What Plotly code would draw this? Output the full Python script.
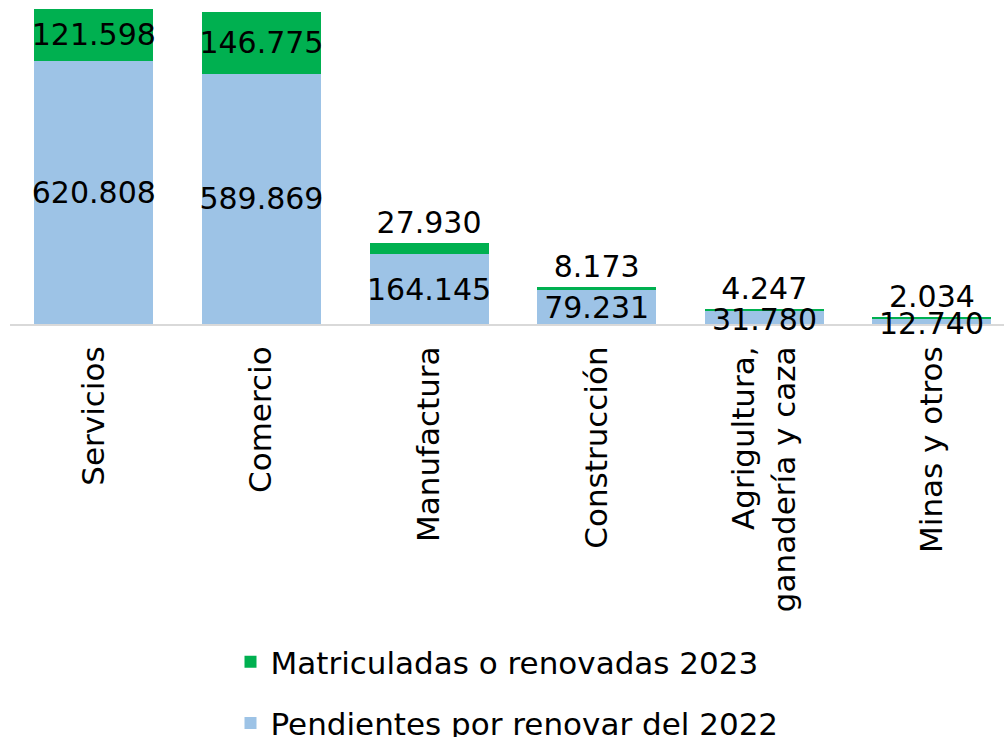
import plotly.graph_objects as go

categories = ["Servicios", "Comercio", "Manufactura", "Construcción",
              "Agrigultura,<br>ganadería y caza", "Minas y otros"]
pendientes_2022 = [620808, 589869, 164145, 79231, 31780, 12740]
matriculadas_2023 = [121598, 146775, 27930, 8173, 4247, 2034]

def fmt(v):
    return f"{v:,}".replace(",", ".")

FONT = "DejaVu Sans"
green_pos = ["inside", "inside", "outside", "outside", "outside", "outside"]
# small blue segments: label drawn as annotation centred on the segment
blue_pos = ["inside", "inside", "inside", "inside", "none", "none"]

fig = go.Figure()
fig.add_trace(go.Bar(
    x=categories, y=pendientes_2022, name="Pendientes por renovar del 2022",
    marker=dict(color="#9dc3e6", line=dict(width=0)),
    text=[fmt(v) for v in pendientes_2022], textposition=blue_pos,
    insidetextanchor="middle", textangle=0, constraintext="none", cliponaxis=False,
    textfont=dict(family=FONT, size=30, color="#000000"),
    legendgroup="b", legendrank=2, width=0.71, hoverinfo="skip",
))
fig.add_trace(go.Bar(
    x=categories, y=matriculadas_2023, name="Matriculadas o renovadas 2023",
    marker=dict(color="#00b050", line=dict(width=0)),
    text=[fmt(v) for v in matriculadas_2023], textposition=green_pos,
    insidetextanchor="middle", textangle=0, constraintext="none", cliponaxis=False,
    textfont=dict(family=FONT, size=30, color="#000000"),
    legendgroup="a", legendrank=1, width=0.71, hoverinfo="skip",
))

for cat, val, pos in zip(categories, pendientes_2022, blue_pos):
    if pos == "none":
        fig.add_annotation(x=cat, y=val / 2, xref="x", yref="y", text=fmt(val),
                           showarrow=False, yanchor="middle", yshift=-2,
                           font=dict(family=FONT, size=30, color="#000000"))

fig.update_layout(
    barmode="stack",
    width=1004, height=737,
    margin=dict(l=10, r=0, t=0, b=413, autoexpand=False),
    paper_bgcolor="white", plot_bgcolor="white",
    font=dict(family=FONT, size=30, color="#000000"),
    showlegend=True,
    legend=dict(orientation="v", x=0.50, xanchor="center", xref="paper",
                y=-0.96, yanchor="top", tracegroupgap=18,
                font=dict(family=FONT, size=31, color="#000000"),
                itemwidth=30),
)
fig.update_xaxes(range=[-0.5, 5.43], tickangle=-90, showline=True,
                 linecolor="#d9d9d9", linewidth=2, ticks="",
                 ticklabelstandoff=8,
                 tickfont=dict(family=FONT, size=31, color="#000000"))
fig.update_yaxes(range=[0, 764000], visible=False, showgrid=False)

fig.write_html("out.html", config={"displayModeBar": False},
               post_script="document.body.style.margin='0';document.body.style.overflow='hidden';")
